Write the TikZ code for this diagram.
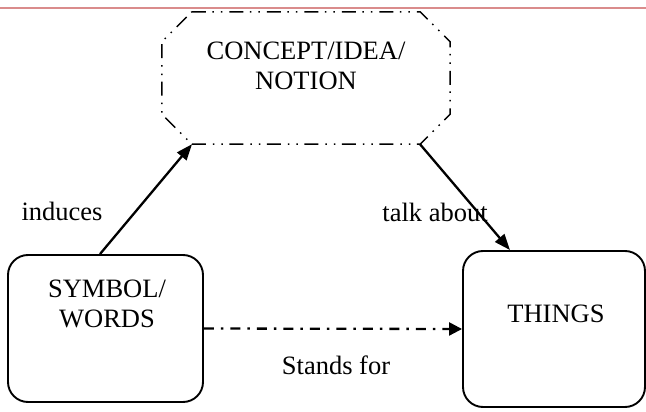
\documentclass[tikz,border=0pt]{standalone}
\usepackage{fontspec}
\setmainfont{Liberation Serif}
\usetikzlibrary{arrows.meta}
\definecolor{rulecol}{RGB}{218,140,140}

\begin{document}
\begin{tikzpicture}[
  x=1pt, y=-1pt,
  font=\fontsize{26.5}{29.5}\selectfont,
  roundbox/.style={
    draw, line width=1.9pt, rounded corners=20pt, inner sep=0pt
  },
  octline/.style={
    line width=1.5pt,
    dash pattern=on 14pt off 6.5pt on 1.5pt off 7pt on 1.5pt off 7pt
  },
  boxtext/.style={align=center, inner sep=0pt},
  edgetext/.style={inner sep=0pt, anchor=base},
  edge/.style={draw, line width=2.3pt, -{Triangle[length=16pt,width=12pt]}},
  dashedge/.style={edge, -{Triangle[length=13pt,width=13pt]},
    dash pattern=on 10pt off 7pt on 2.5pt off 7pt},
]
\useasboundingbox (0,0) rectangle (646,412);

% ---- top rule ----
\draw[rulecol, line width=1.5pt] (0,8) -- (646,8);

% ---- Nodes ----
\node[minimum width=288pt, minimum height=132pt, inner sep=0pt] (concept) at (306,78) {};
\draw[octline] ([xshift=30pt]concept.north west) -- ([xshift=-30pt]concept.north east)
  -- ([yshift=-30pt]concept.north east) -- ([yshift=30pt]concept.south east)
  -- ([xshift=-30pt]concept.south east) -- ([xshift=30pt]concept.south west)
  -- ([yshift=30pt]concept.south west) -- ([yshift=-30pt]concept.north west) -- cycle;
\node[boxtext] (conceptlbl) at (306,66) {CONCEPT/IDEA/\\NOTION};

\node[roundbox, minimum width=195pt, minimum height=147pt] (symbol) at (105.5,328.5) {};
\node[boxtext] (symbollbl) at (107,304) {SYMBOL/\\WORDS};

\node[roundbox, minimum width=182pt, minimum height=156pt] (things) at (554,329) {};
\node[boxtext] (thingslbl) at (556,314) {THINGS};

% ---- Edge labels ----
\node[edgetext] (induces) at (62,220) {induces};
\node[edgetext] (talk)    at (435,221) {talk about};
\node[edgetext] (stands)  at (336,374) {Stands for};

% ---- Edges ----
\draw[edge] ([xshift=-5.5pt]symbol.north) -- ([xshift=-114pt]concept.south);
\draw[edge] ([xshift=114pt]concept.south) -- ([xshift=-44pt]things.north);
\draw[dashedge] (symbol.east) -- (things.west);

\end{tikzpicture}
\end{document}
